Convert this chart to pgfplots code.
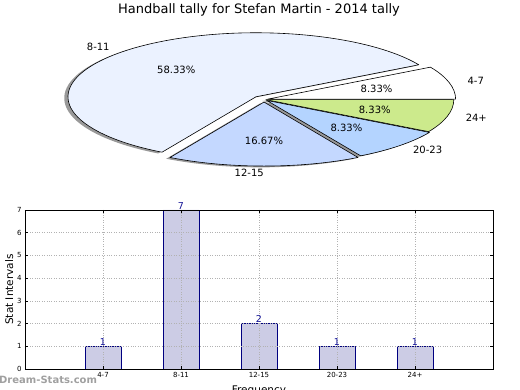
\documentclass[border=0pt]{standalone}
\usepackage{pgfplots}
\pgfplotsset{compat=1.18}
\usepackage{fontspec}
\setmainfont{DejaVu Sans}
\pgfkeys{/pgf/number format/assume math mode=true}
\definecolor{cA}{RGB}{255,255,255}
\definecolor{cB}{RGB}{235,242,255}
\definecolor{cC}{RGB}{196,216,255}
\definecolor{cD}{RGB}{180,212,255}
\definecolor{cE}{RGB}{204,234,140}
\definecolor{barfill}{RGB}{204,204,229}
\definecolor{baredge}{RGB}{0,0,128}
\definecolor{vallab}{RGB}{20,20,150}
\definecolor{wm}{RGB}{160,160,160}
% pie data: value/colour/explode/label
\def\piedata{1/cA/0.02/4-7, 7/cB/0.06/8-11, 2/cC/0.04/12-15, 1/cD/0.02/20-23, 1/cE/0.01/24+}
\begin{document}
\begin{tikzpicture}
\begin{axis}[at={(264pt,290.5pt)}, anchor=origin, x=188pt, y=64pt,
  xmin=-1.3, xmax=1.3, ymin=-1.3, ymax=1.3, hide axis, clip=false]
\pgfplotsextra{
  \gdef\tot{0}
  \foreach \v/\col/\xp/\lab in \piedata {\pgfmathsetmacro\t{\tot+\v}\xdef\tot{\t}}
  % shadows
  \gdef\acc{0}
  \foreach \v/\col/\xp/\lab in \piedata {
    \pgfmathsetmacro\aone{\acc}
    \pgfmathsetmacro\atwo{\acc+360*\v/\tot}
    \pgfmathsetmacro\am{(\aone+\atwo)/2}
    \pgfmathsetmacro\cx{\xp*cos(\am)-0.02}
    \pgfmathsetmacro\cy{\xp*sin(\am)-0.02}
    \fill[black!40] (axis cs:\cx,\cy) -- ++(\aone:188pt and 64pt)
      arc[start angle=\aone, end angle=\atwo, x radius=188pt, y radius=64pt] -- cycle;
    \xdef\acc{\atwo}
  }
  % wedges
  \gdef\acc{0}
  \foreach \v/\col/\xp/\lab in \piedata {
    \pgfmathsetmacro\aone{\acc}
    \pgfmathsetmacro\atwo{\acc+360*\v/\tot}
    \pgfmathsetmacro\am{(\aone+\atwo)/2}
    \pgfmathsetmacro\cx{\xp*cos(\am)}
    \pgfmathsetmacro\cy{\xp*sin(\am)}
    \filldraw[fill=\col, draw=black, line width=0.6pt, line join=round] (axis cs:\cx,\cy) -- ++(\aone:188pt and 64pt)
      arc[start angle=\aone, end angle=\atwo, x radius=188pt, y radius=64pt] -- cycle;
    \xdef\acc{\atwo}
  }
  % labels
  \gdef\acc{0}
  \foreach \v/\col/\xp/\lab in \piedata {
    \pgfmathsetmacro\aone{\acc}
    \pgfmathsetmacro\atwo{\acc+360*\v/\tot}
    \pgfmathsetmacro\am{(\aone+\atwo)/2}
    \pgfmathsetmacro\lx{(\xp+1.1)*cos(\am)}
    \pgfmathsetmacro\ly{(\xp+1.1)*sin(\am)}
    \pgfmathsetmacro\px{(\xp+0.6)*cos(\am)}
    \pgfmathsetmacro\py{(\xp+0.6)*sin(\am)}
    \pgfmathsetmacro\pc{100*\v/\tot}
    \pgfmathparse{\lx>0.001 ? 1 : 0}
    \ifnum\pgfmathresult=1
      \node[anchor=west, inner sep=0pt, font=\fontsize{10}{12}\selectfont] at (axis cs:\lx,\ly) {\lab};
    \else
      \node[anchor=east, inner sep=0pt, font=\fontsize{10}{12}\selectfont] at (axis cs:\lx,\ly) {\lab};
    \fi
    \node[inner sep=0pt, font=\fontsize{10}{12}\selectfont] at (axis cs:\px,\py) {\pgfmathprintnumber[fixed, precision=2, fixed zerofill, assume math mode=true]{\pc}\%};
    \xdef\acc{\atwo}
  }
}
\end{axis}
\begin{axis}[at={(25pt,21pt)}, anchor=south west, scale only axis,
  width=468pt, height=159pt,
  xmin=-1, xmax=5, ymin=0, ymax=7,
  xtick={0,1,2,3,4}, xticklabels={4-7,8-11,12-15,20-23,24+},
  ytick={0,1,2,3,4,5,6,7},
  /pgf/number format/assume math mode=true,
  grid=major, major grid style={dotted, gray!60, line width=0.7pt},
  axis on top, clip=false,
  tick style={black, line width=0.5pt}, major tick length=3pt,
  tick label style={font=\fontsize{7}{8}\selectfont},
  axis line style={line width=0.7pt},
  ylabel={Stat Intervals}, xlabel={Frequency},
  label style={font=\fontsize{10.5}{12}\selectfont},
  ylabel style={at={(axis description cs:-0.034,0.5)}, anchor=center},
  xlabel style={at={(axis description cs:0.5,0)}, anchor=north, yshift=-13.5pt},
  ]
\addplot[ybar, bar width=0.46, fill=barfill, draw=baredge, line width=0.6pt,
  nodes near coords,
  nodes near coords style={font=\fontsize{9.5}{10}\selectfont, color=vallab, inner sep=0.3pt, anchor=south, /pgf/number format/assume math mode=true}]
  coordinates {(0,1) (1,7) (2,2) (3,1) (4,1)};
\end{axis}
\node[font=\fontsize{13}{15}\selectfont] at (259pt,380pt) {Handball tally for Stefan Martin - 2014 tally};
\node[anchor=west, inner sep=0pt, text=wm, font=\bfseries\fontsize{10}{12}\selectfont] at (-1pt,10pt) {Dream-Stats.com};
\pgfresetboundingbox
\useasboundingbox (0,0) rectangle (520pt,390pt);
\end{tikzpicture}
\end{document}
